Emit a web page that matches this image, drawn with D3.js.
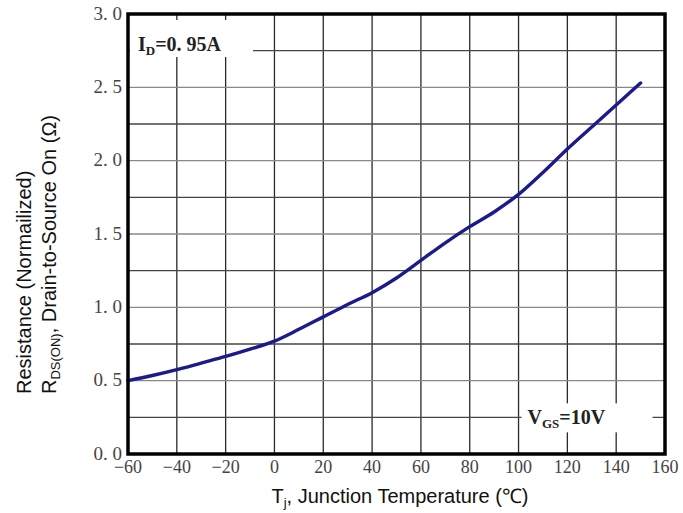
<!DOCTYPE html>
<html>
<head>
<meta charset="utf-8">
<script src="https://cdn.jsdelivr.net/npm/d3@7"></script>
<style>
  body { margin: 0; background: #fff; }
  svg { display: block; }
</style>
</head>
<body>
<div id="chart"></div>
<script>
// temperature (deg C) vs normalized on-resistance
const temps = [-60, -50, -40, -30, -20, -10, 0, 10, 20, 30, 40, 50, 60, 70, 80, 90, 100, 110, 120, 130, 140, 150];
const rdsNorm = [0.50, 0.535, 0.575, 0.62, 0.665, 0.715, 0.77, 0.85, 0.935, 1.02, 1.10, 1.20, 1.32, 1.44, 1.55, 1.65, 1.77, 1.92, 2.08, 2.23, 2.38, 2.53];
const xTicks = [-60, -40, -20, 0, 20, 40, 60, 80, 100, 120, 140, 160];
const yTicks = [0, 0.5, 1.0, 1.5, 2.0, 2.5, 3.0];
const yGrid = d3.range(0, 3.01, 0.25);

const W = 683, H = 513;
const margin = { top: 14, left: 128, right: 18, bottom: 59 };
const width = W - margin.left - margin.right;
const height = H - margin.top - margin.bottom;

const svg = d3.select('#chart').append('svg')
  .attr('width', W)
  .attr('height', H);

const g = svg.append('g')
  .attr('transform', `translate(${margin.left},${margin.top})`);

const x = d3.scaleLinear().domain([-60, 160]).range([0, width]);
const y = d3.scaleLinear().domain([0, 3]).range([height, 0]);

// grid
g.append('g').selectAll('line')
  .data(xTicks)
  .join('line')
  .attr('x1', d => x(d)).attr('x2', d => x(d))
  .attr('y1', 0).attr('y2', height)
  .attr('stroke', '#2a2a2a')
  .attr('stroke-width', 1.3);

g.append('g').selectAll('line')
  .data(yGrid)
  .join('line')
  .attr('x1', 0).attr('x2', width)
  .attr('y1', d => y(d)).attr('y2', d => y(d))
  .attr('stroke', (d, i) => i % 2 ? '#444' : '#888')
  .attr('stroke-width', 1.3);

// white boxes behind the annotations
g.append('rect')
  .attr('x', 2).attr('y', 6).attr('width', 123).attr('height', 37)
  .attr('fill', '#fff');
g.append('rect')
  .attr('x', x(100) + 3).attr('y', y(0.25) - 14).attr('width', 131).attr('height', 29)
  .attr('fill', '#fff');

// curve
const line = d3.line()
  .x((d, i) => x(temps[i]))
  .y(d => y(d))
  .curve(d3.curveMonotoneX);

g.append('path')
  .datum(rdsNorm)
  .attr('fill', 'none')
  .attr('stroke', '#1b1b8c')
  .attr('stroke-width', 3.4)
  .attr('stroke-linecap', 'round')
  .attr('d', line);

// frame
g.append('rect')
  .attr('x', 0).attr('y', 0)
  .attr('width', width).attr('height', height)
  .attr('fill', 'none')
  .attr('stroke', '#000')
  .attr('stroke-width', 3.5);

// tick labels
const serif = '"Liberation Serif", "DejaVu Serif", serif';

g.append('g').selectAll('text')
  .data(yTicks)
  .join('text')
  .attr('x', -6)
  .attr('y', d => y(d))
  .attr('dy', '0.3em')
  .attr('text-anchor', 'end')
  .attr('font-family', serif)
  .attr('font-size', 19)
  .attr('fill', '#444')
  .text(d => d.toFixed(1).replace('.', '. '));

g.append('g').selectAll('text')
  .data(xTicks)
  .join('text')
  .attr('x', d => x(d))
  .attr('y', height + 19)
  .attr('text-anchor', 'middle')
  .attr('font-family', serif)
  .attr('font-size', 18)
  .attr('fill', '#444')
  .text(d => d < 0 ? '\u2212' + Math.abs(d) : d);

// annotations
const idLabel = g.append('text')
  .attr('x', 10).attr('y', 37)
  .attr('font-family', serif)
  .attr('font-size', 20)
  .attr('font-weight', 'bold')
  .attr('fill', '#222');
idLabel.append('tspan').text('I');
idLabel.append('tspan').attr('font-size', 13).attr('dy', 4).text('D');
idLabel.append('tspan').attr('dy', -4).text('=0. 95A');

const vgsLabel = g.append('text')
  .attr('x', x(100) + 9).attr('y', y(0.25) + 7)
  .attr('font-family', serif)
  .attr('font-size', 20)
  .attr('font-weight', 'bold')
  .attr('fill', '#222');
vgsLabel.append('tspan').text('V');
vgsLabel.append('tspan').attr('font-size', 13).attr('dy', 4).text('GS');
vgsLabel.append('tspan').attr('dy', -4).text('=10V');

// axis titles
const sans = 'Arial, "Liberation Sans", sans-serif';

const xTitle = svg.append('text')
  .attr('x', 400).attr('y', 503)
  .attr('text-anchor', 'middle')
  .attr('font-family', sans)
  .attr('font-size', 20)
  .attr('fill', '#111');
xTitle.append('tspan').text('T');
xTitle.append('tspan').attr('font-size', 13).attr('dy', 4).text('j');
xTitle.append('tspan').attr('dy', -4).text(', Junction Temperature (\u2103)');

svg.append('text')
  .attr('transform', 'translate(31,394) rotate(-90)')
  .attr('text-anchor', 'start')
  .attr('font-family', sans)
  .attr('font-size', 20)
  .attr('fill', '#111')
  .text('Resistance (Normailized)');

const yTitle2 = svg.append('text')
  .attr('transform', 'translate(56,394) rotate(-90)')
  .attr('text-anchor', 'start')
  .attr('font-family', sans)
  .attr('font-size', 20)
  .attr('fill', '#111');
yTitle2.append('tspan').text('R');
yTitle2.append('tspan').attr('font-size', 13).attr('dy', 4).text('DS(ON)');
yTitle2.append('tspan').attr('dy', -4).text(', Drain-to-Source On (\u03a9)');
</script>
</body>
</html>
